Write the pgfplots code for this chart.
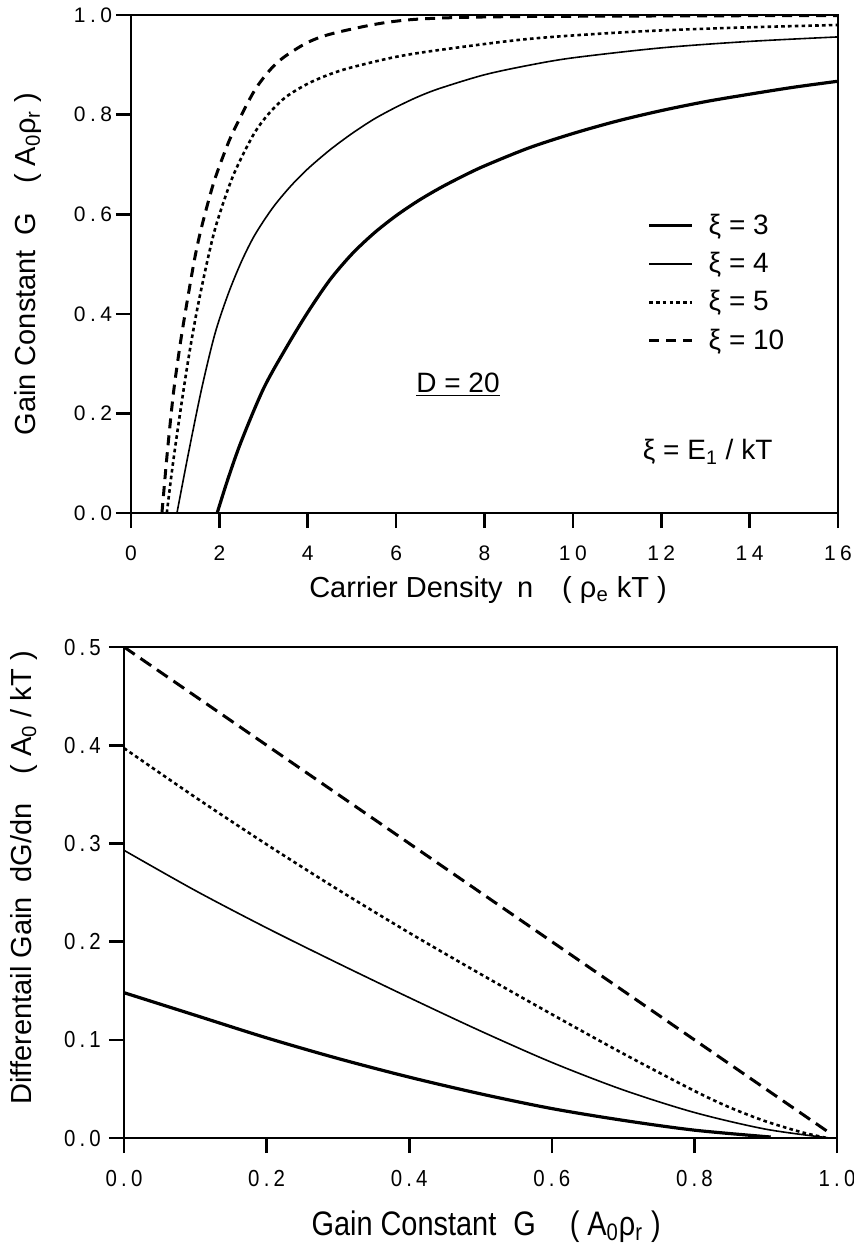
\documentclass[border=0pt]{standalone}
\usepackage{fontspec}
\setmainfont{Liberation Sans}
\newfontfamily\tickfontA{Liberation Sans}[LetterSpace=21]
\newfontfamily\tickfontB{Liberation Sans}[LetterSpace=18, FakeStretch=0.88]
\newfontfamily\narrowfont{Liberation Sans}[FakeStretch=0.85]
\usepackage{pgfplots}
\pgfplotsset{compat=1.18}
\pgfplotsset{
  common/.style={
    scale only axis,
    axis line style={line width=1.3pt},
    major tick style={line width=1.3pt, black},
    tick align=outside,
    major tick length=7.5pt,
    tick pos=left,
    tick label style={inner sep=0pt},
    label style={font=\fontsize{14.5pt}{17pt}\selectfont, inner sep=1pt},
    /pgf/number format/assume math mode=true,
  }
}
\begin{document}
\begin{tikzpicture}
\path[use as bounding box] (0,0) rectangle (427pt,-626.5pt);
\begin{axis}[common,
  at={(65.5pt,-256.5pt)}, anchor=south west,
  width=353.5pt, height=249pt,
  xmin=0, xmax=16, ymin=0, ymax=1,
  tick label style={font={\tickfontA\fontsize{10.5pt}{11pt}\selectfont}},
  xticklabel style={yshift=-8.75pt},
  yticklabel style={xshift=-1.8pt},
  xtick={0,2,4,6,8,10,12,14,16}, xticklabels={0,2,4,6,8,10,12,14,16},
  ytick={0,0.2,0.4,0.6,0.8,1}, yticklabels={0.0,0.2,0.4,0.6,0.8,1.0},
  xlabel={Carrier Density\enspace n\quad( ρ\textsubscript{e} kT )},
  ylabel={Gain Constant\enspace G\quad( A\textsubscript{0}ρ\textsubscript{r} )},
  xlabel style={at={(axis description cs:0.505,-0.1546)},anchor=center},
  ylabel style={at={(axis description cs:-0.1457,0.5)},anchor=center},
  legend style={at={(axis cs:11.68,0.605)}, anchor=north west, draw=none, fill=none,
    font=\fontsize{14pt}{16pt}\selectfont, row sep=5.5pt, inner sep=0pt,
    nodes={inner sep=1pt}},
  legend cell align=left,
  legend image code/.code={\draw[#1] (0pt,0pt) -- (21.5pt,0pt); \path (28pt,0pt);},
]
\addplot[black, line width=1.6pt, smooth] coordinates {
(1.95,0) (2.2,0.07) (2.5,0.145) (3.0,0.25) (3.5,0.33) (4.0,0.403) (4.5,0.468) (5.0,0.52) (5.5,0.562) (6.0,0.597) (6.5,0.627) (7.0,0.653) (7.5,0.676) (8.0,0.697) (9.0,0.733) (10.0,0.762) (11.0,0.787) (12.0,0.808) (13.0,0.826) (14.0,0.841) (15.0,0.855) (16.0,0.867)};
\addlegendentry{ξ = 3}
\addplot[black, line width=0.8pt, smooth] coordinates {
(1.04,0) (1.3,0.12) (1.6,0.25) (1.9,0.36) (2.2,0.44) (2.5,0.505) (2.8,0.558) (3.2,0.612) (3.6,0.655) (4.0,0.691) (4.5,0.729) (5.0,0.762) (5.5,0.791) (6.0,0.815) (6.5,0.836) (7.0,0.853) (8.0,0.880) (9.0,0.899) (10.0,0.914) (12.0,0.934) (14.0,0.947) (16.0,0.956)};
\addlegendentry{ξ = 4}
\addplot[black, line width=1.3pt, dash pattern=on 1.8pt off 1.6pt, smooth] coordinates {
(0.81,0) (0.95,0.1) (1.11,0.2) (1.3,0.31) (1.5,0.41) (1.75,0.515) (1.95,0.585) (2.31,0.677) (2.76,0.758) (3.1,0.80) (3.5,0.835) (4.0,0.862) (4.5,0.881) (5.0,0.895) (6.0,0.916) (7.0,0.930) (9.0,0.952) (11.29,0.966) (13.5,0.974) (16,0.98)};
\addlegendentry{ξ = 5}
\addplot[black, line width=1.5pt, dash pattern=on 5pt off 3.5pt, smooth] coordinates {
(0.70,0) (0.82,0.12) (0.95,0.233) (1.05,0.3) (1.15,0.36) (1.3,0.44) (1.45,0.515) (1.6,0.575) (1.86,0.66) (2.1,0.72) (2.31,0.765) (2.76,0.843) (3.1,0.885) (3.44,0.914) (4.0,0.945) (4.57,0.963) (5.7,0.984) (6.77,0.993) (9,0.997) (16,0.999)};
\addlegendentry{ξ = 10}
\node[font=\fontsize{14pt}{16pt}\selectfont, anchor=center] at (axis cs:7.40,0.257) {\underline{D = 20}};
\node[font=\fontsize{14pt}{16pt}\selectfont, anchor=center] at (axis cs:13.05,0.122) {ξ = E\textsubscript{1} / kT};
\end{axis}
\begin{axis}[common,
  at={(62pt,-569pt)}, anchor=south west,
  width=356.5pt, height=245.5pt,
  xmin=0, xmax=1, ymin=0, ymax=0.5,
  tick label style={font={\tickfontB\fontsize{11.6pt}{12pt}\selectfont}},
  xticklabel style={yshift=-8.3pt},
  yticklabel style={xshift=-3.9pt},
  xtick={0,0.2,0.4,0.6,0.8,1}, xticklabels={0.0,0.2,0.4,0.6,0.8,1.0},
  ytick={0,0.1,0.2,0.3,0.4,0.5}, yticklabels={0.0,0.1,0.2,0.3,0.4,0.5},
  xlabel={\narrowfont\fontsize{17pt}{19pt}\selectfont Gain Constant\enspace G\quad( A\textsubscript{0}ρ\textsubscript{r} )},
  ylabel={Differentail Gain\enspace dG/dn\quad( A\textsubscript{0} / kT )},
  xlabel style={at={(axis description cs:0.508,-0.181)},anchor=center},
  ylabel style={at={(axis description cs:-0.140,0.53)},anchor=center},
]
\addplot[black, line width=1.5pt, dash pattern=on 6.5pt off 3.5pt] coordinates {
(0,0.5) (0.2,0.4) (0.4,0.3) (0.6,0.2) (0.8,0.1) (0.99,0.005)};
\addplot[black, line width=1.3pt, dash pattern=on 1.8pt off 1.6pt, smooth] coordinates {
(0,0.397) (0.1,0.347) (0.2,0.299) (0.3,0.253) (0.4,0.209) (0.5,0.167) (0.6,0.126) (0.7,0.086) (0.8,0.048) (0.85,0.031) (0.9,0.017) (0.95,0.006) (0.986,0.0)};
\addplot[black, line width=0.8pt, smooth] coordinates {
(0,0.293) (0.1,0.252) (0.2,0.214) (0.3,0.178) (0.4,0.143) (0.5,0.109) (0.6,0.077) (0.7,0.049) (0.8,0.026) (0.9,0.009) (0.99,0.0)};
\addplot[black, line width=1.6pt, smooth] coordinates {
(0,0.148) (0.1,0.125) (0.2,0.102) (0.3,0.081) (0.4,0.062) (0.5,0.045) (0.6,0.030) (0.7,0.018) (0.8,0.008) (0.907,0.001)};
\end{axis}
\end{tikzpicture}
\end{document}
